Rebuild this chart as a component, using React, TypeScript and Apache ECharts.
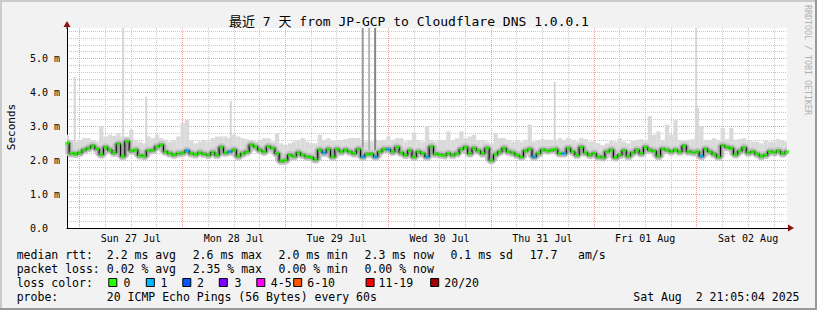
import React, { useEffect, useRef } from 'react';
import * as echarts from 'echarts';

const MONO = "'DejaVu Sans Mono', 'Noto Sans CJK SC', monospace";

const title = '最近 7 天 from JP-GCP to Cloudflare DNS 1.0.0.1';

// median RTT (ms), one value per hour since Sat Jul 26 21:05
const medianRtt = [
  2.5, 2.2, 2.18, 2.22, 2.3, 2.35, 2.42, 2.33, 2.17, 2.38,
  2.3, 2.22, 2.48, 2.12, 2.55, 2.28, 2.3, 2.14, 2.12, 2.28,
  2.3, 2.4, 2.45, 2.25, 2.2, 2.16, 2.2, 2.22, 2.28, 2.2,
  2.17, 2.22, 2.18, 2.15, 2.23, 2.15, 2.38, 2.22, 2.25, 2.3,
  2.12, 2.2, 2.25, 2.45, 2.4, 2.3, 2.25, 2.4, 2.35, 2.2,
  1.98, 2.0, 2.15, 2.12, 2.22, 2.15, 2.1, 2.08, 2.02, 2.3,
  2.22, 2.32, 2.1, 2.32, 2.25, 2.3, 2.25, 2.2, 2.32, 2.1,
  2.18, 2.18, 2.1, 2.25, 2.32, 2.32, 2.25, 2.38, 2.22, 2.15,
  2.28, 2.1, 2.25, 2.2, 2.1, 2.4, 2.18, 2.16, 2.14, 2.2,
  2.15, 2.2, 2.32, 2.38, 2.2, 2.35, 2.28, 2.2, 2.35, 2.0,
  2.17, 2.25, 2.35, 2.25, 2.22, 2.15, 2.1, 2.28, 2.32, 2.1,
  2.2, 2.3, 2.28, 2.3, 2.32, 2.2, 2.2, 2.35, 2.25, 2.15,
  2.38, 2.22, 2.15, 2.2, 2.1, 2.08, 2.25, 2.3, 2.08, 2.15,
  2.28, 2.12, 2.22, 2.3, 2.2, 2.38, 2.3, 2.27, 2.12, 2.33,
  2.3, 2.26, 2.3, 2.25, 2.42, 2.25, 2.23, 2.25, 2.12, 2.33,
  2.25, 2.18, 2.1, 2.43, 2.38, 2.35, 2.17, 2.27, 2.37, 2.22,
  2.25, 2.18, 2.12, 2.15, 2.25, 2.23, 2.27, 2.2, 2.25,
];

// upper edge of the light smoke (ms), one value per hour
const maxRtt = [
  2.75, 2.6, 2.55, 2.6, 2.65, 2.65, 2.6, 2.55, 3.0, 2.7,
  2.75, 2.72, 2.8, 2.7, 2.7, 2.9, 2.6, 2.55, 2.5, 2.7,
  2.65, 2.75, 2.65, 2.6, 2.55, 2.6, 2.7, 3.1, 3.2, 2.6,
  2.5, 2.55, 2.6, 2.55, 2.65, 2.7, 2.7, 2.7, 2.65, 2.75,
  2.7, 2.65, 2.62, 2.6, 2.55, 2.6, 2.65, 2.65, 2.55, 2.8,
  2.5, 2.45, 2.5, 2.55, 2.6, 2.66, 2.55, 2.5, 2.5, 2.75,
  2.6, 2.65, 2.57, 2.6, 2.6, 2.62, 2.65, 2.66, 2.66, 2.55,
  2.55, 2.55, 2.6, 2.57, 2.6, 2.7, 2.6, 2.65, 2.65, 2.55,
  2.6, 2.82, 2.6, 2.55, 3.0, 2.6, 2.55, 2.6, 2.6, 2.85,
  2.6, 2.65, 2.85, 2.65, 2.7, 2.75, 2.6, 2.6, 2.55, 2.5,
  2.8, 2.65, 2.65, 2.6, 2.55, 2.6, 2.55, 2.6, 3.05, 2.55,
  2.6, 2.62, 2.6, 2.6, 2.6, 2.65, 2.6, 2.66, 2.6, 2.55,
  2.66, 2.62, 2.55, 2.55, 2.5, 2.45, 2.5, 2.57, 2.55, 2.65,
  2.55, 2.5, 2.57, 2.6, 2.62, 2.6, 3.3, 2.75, 2.85, 2.6,
  3.05, 2.75, 3.2, 2.6, 2.57, 2.6, 2.62, 3.55, 3.0, 2.6,
  2.6, 2.65, 2.6, 2.95, 2.62, 2.95, 2.6, 2.62, 2.65, 2.57,
  2.55, 2.55, 2.5, 2.57, 2.55, 2.55, 2.62, 2.57, 2.55,
];

// narrow outlier spikes: hour position and top value (ms)
const spikeHour = [1.8, 13.1, 18.5, 38.2, 69.0, 70.5, 71.9, 113.8, 146.8];
const spikeTop = [4.45, 6.5, 3.87, 3.75, 6.5, 6.5, 6.5, 4.31, 6.5];
const spikeColor = ['#d6d6d6', '#d6d6d6', '#d6d6d6', '#d6d6d6', '#9c9c9c', '#b4b4b4', '#858585', '#d6d6d6', '#d6d6d6'];

// hours with 1 lost ping
const lossOneHours = [28, 38, 60, 69, 72, 75, 84, 109, 116, 148];

const sixHourTicks = [2.92, 8.92, 14.92, 20.92, 26.92, 32.92, 38.92, 44.92, 50.92, 56.92, 62.92, 68.92, 74.92, 80.92,
  86.92, 92.92, 98.92, 104.92, 110.92, 116.92, 122.92, 128.92, 134.92, 140.92, 146.92, 152.92, 158.92, 164.92];
const dayTicks = [2.92, 26.92, 50.92, 74.92, 98.92, 122.92, 146.92];
const noonTicks = [14.92, 38.92, 62.92, 86.92, 110.92, 134.92, 158.92];
const dayLabels = ['Sun 27 Jul', 'Mon 28 Jul', 'Tue 29 Jul', 'Wed 30 Jul', 'Thu 31 Jul', 'Fri 01 Aug', 'Sat 02 Aug'];

const yMinorTicks = [0.2, 0.4, 0.6, 0.8, 1.2, 1.4, 1.6, 1.8, 2.2, 2.4, 2.6, 2.8, 3.2, 3.4, 3.6, 3.8,
  4.2, 4.4, 4.6, 4.8, 5.2, 5.4, 5.6, 5.8];
const yMajorTicks = [1, 2, 3, 4, 5];
const yLabelValues = [0, 1, 2, 3, 4, 5];

const medianStats = ['2.2 ms avg', '2.6 ms max', '2.0 ms min', '2.3 ms now', '0.1 ms sd', '17.7', 'am/s'];
const lossStats = ['0.02 % avg', '2.35 % max', '0.00 % min', '0.00 % now'];
const lossLabels = ['0', '1', '2', '3', '4-5', '6-10', '11-19', '20/20'];
const lossColors = ['#26ff00', '#00b8ff', '#0059ff', '#7e00ff', '#ff00ff', '#ff5500', '#ff0000', '#a10000'];
const probeText = '20 ICMP Echo Pings (56 Bytes) every 60s';
const dateText = 'Sat Aug  2 21:05:04 2025';

// layout (pixels)
const statX = [106.8, 192.7, 278.6, 364.6, 450.5, 529.7, 578];
const boxX = [108.3, 145.8, 182.3, 218.8, 256.3, 293.2, 365.6, 430.2];
const boxLabelX = [123.4, 160.4, 196.9, 234.4, 270.8, 307.3, 378.6, 444.3];
const rowY = [255, 268.5, 282.5, 296.8];

export default function App() {
  const ref = useRef<HTMLDivElement>(null);
  useEffect(() => {
    document.body.style.margin = '0';
    const chart = echarts.init(ref.current!, null, { renderer: 'svg' });
    const hours = medianRtt.map((_, i) => i);
    const txt = (text: string, x: number, y: number, extra: any = {}) => ({
      type: 'text', x, y, silent: true,
      style: { text, fill: '#000', fontFamily: MONO, fontSize: 11.5, align: 'left', verticalAlign: 'middle', ...extra },
    });
    const graphic: any[] = [
      { type: 'rect', shape: { x: 0, y: 0, width: 817, height: 2 }, style: { fill: '#cbcbcb' } },
      { type: 'rect', shape: { x: 0, y: 0, width: 2, height: 310 }, style: { fill: '#cbcbcb' } },
      { type: 'rect', shape: { x: 815, y: 0, width: 2, height: 310 }, style: { fill: '#999999' } },
      { type: 'rect', shape: { x: 0, y: 308, width: 817, height: 2 }, style: { fill: '#999999' } },
      txt(title, 409, 21, { fontSize: 13, align: 'center' }),
      { type: 'text', x: 11, y: 127, rotation: Math.PI / 2, silent: true,
        style: { text: 'Seconds', fill: '#000', fontFamily: MONO, fontSize: 11, align: 'center', verticalAlign: 'middle' } },
      { type: 'text', x: 808, y: 5, rotation: -Math.PI / 2, silent: true,
        style: { text: 'RRDTOOL / TOBI OETIKER', fill: '#b0b0b0', fontFamily: MONO, fontSize: 8.3, align: 'left', verticalAlign: 'middle' } },
      { type: 'polygon', shape: { points: [[63.5, 27], [70.5, 27], [67, 21]] }, style: { fill: '#8b1010' } },
      { type: 'line', shape: { x1: 67, y1: 27, x2: 67, y2: 29 }, style: { stroke: '#000', lineWidth: 1 } },
      { type: 'polygon', shape: { points: [[788, 224.5], [788, 231.5], [794, 228]] }, style: { fill: '#8b1010' } },
      { type: 'line', shape: { x1: 786, y1: 228.5, x2: 788, y2: 228.5 }, style: { stroke: '#000', lineWidth: 1 } },
      txt('median rtt:', 16.7, rowY[0]),
      ...medianStats.map((s, i) => txt(s, statX[i], rowY[0])),
      txt('packet loss:', 16.7, rowY[1]),
      ...lossStats.map((s, i) => txt(s, statX[i], rowY[1])),
      txt('loss color:', 16.7, rowY[2]),
      ...lossLabels.map((s, i) => txt(s, boxLabelX[i], rowY[2])),
      ...lossColors.map((c, i) => ({
        type: 'rect', shape: { x: boxX[i] + 0.5, y: rowY[2] - 4, width: 8, height: 8 },
        style: { fill: c, stroke: '#000', lineWidth: 1 },
      })),
      txt('probe:', 16.7, rowY[3]),
      txt(probeText, statX[0], rowY[3]),
      txt(dateText, 799.5, rowY[3], { align: 'right' }),
    ];

    const option: any = {
      animation: false,
      backgroundColor: '#f2f2f2',
      grid: { left: 67, top: 28, width: 720, height: 200, show: true, backgroundColor: '#ffffff', borderWidth: 0, outerBoundsMode: 'none' },
      xAxis: [
        {
          type: 'value', min: 0, max: 168, position: 'bottom',
          axisLine: { show: true, onZero: false, lineStyle: { color: '#000', width: 1 } },
          axisTick: { show: false, customValues: sixHourTicks },
          axisLabel: { show: false },
          splitLine: { show: true, lineStyle: { color: '#c8c8c8', type: [1, 1], width: 1 } },
        },
        {
          type: 'value', min: 0, max: 168, position: 'bottom',
          axisLine: { show: false },
          axisTick: { show: false, customValues: dayTicks },
          axisLabel: {
            customValues: noonTicks, margin: 5, color: '#000', fontFamily: MONO, fontSize: 10,
            formatter: (v: number) => {
              let best = 0;
              noonTicks.forEach((t, i) => { if (Math.abs(t - v) < Math.abs(noonTicks[best] - v)) best = i; });
              return dayLabels[best];
            },
          },
          splitLine: { show: true, lineStyle: { color: '#ff9a9a', type: [1, 1], width: 1 } },
        },
      ],
      yAxis: [
        {
          type: 'value', min: 0, max: 5.9, position: 'left',
          axisLine: { show: true, onZero: false, lineStyle: { color: '#000', width: 1 } },
          axisTick: { show: false, customValues: yMinorTicks },
          axisLabel: { show: false },
          splitLine: { show: true, lineStyle: { color: '#c8c8c8', type: [1, 1], width: 1 } },
        },
        {
          type: 'value', min: 0, max: 5.9, position: 'left',
          axisLine: { show: false },
          axisTick: { show: false, customValues: yMajorTicks },
          axisLabel: {
            customValues: yLabelValues, margin: 7,
            formatter: (v: number) => `{a|${v === 0 ? '0.0' : v.toFixed(1) + ' m'}}`,
            rich: { a: { width: 30, align: 'left', fontFamily: MONO, fontSize: 10, color: '#000' } },
          },
          splitLine: { show: true, lineStyle: { color: '#ff9a9a', type: [1, 1], width: 1 } },
        },
      ],
      series: [
        {
          type: 'custom', xAxisIndex: 0, yAxisIndex: 0, clip: true, silent: true, z: 1,
          data: hours.map((h) => [h, medianRtt[h], maxRtt[h]]),
          encode: { x: 0, y: [1, 2] },
          renderItem: (params: any, api: any) => {
            const h = api.value(0);
            const p0 = api.coord([h - 0.5, api.value(1)]);
            const p1 = api.coord([h + 0.5, api.value(2)]);
            return {
              type: 'rect',
              shape: { x: p0[0], y: p1[1], width: p1[0] - p0[0], height: p0[1] - p1[1] },
              style: { fill: '#dadada' },
            };
          },
        },
        {
          type: 'custom', xAxisIndex: 0, yAxisIndex: 0, clip: true, silent: true, z: 2,
          data: spikeHour.map((p, i) => [p, spikeTop[i], i]),
          encode: { x: 0, y: 1 },
          renderItem: (params: any, api: any) => {
            const p = api.value(0);
            const i = api.value(2);
            const base = api.coord([p, medianRtt[Math.round(p)]]);
            const top = api.coord([p, api.value(1)]);
            return {
              type: 'rect',
              shape: { x: base[0] - 1, y: top[1], width: 2, height: base[1] - top[1] },
              style: { fill: spikeColor[i] },
            };
          },
        },
        {
          type: 'line', step: 'middle', silent: true, z: 3, showSymbol: false,
          data: hours.map((h) => [h, medianRtt[h]]),
          lineStyle: { color: '#c6c6c6', width: 8, cap: 'butt', join: 'bevel' },
        },
        {
          type: 'line', step: 'middle', silent: true, z: 4, showSymbol: false,
          data: hours.map((h) => [h, medianRtt[h]]),
          lineStyle: { color: '#949494', width: 4, cap: 'butt', join: 'bevel' },
        },
        {
          type: 'line', step: 'middle', silent: true, z: 5, showSymbol: false,
          data: hours.map((h) => [h, medianRtt[h]]),
          lineStyle: { color: '#000000', width: 1 },
        },
        {
          type: 'scatter', silent: true, z: 6, symbol: 'rect', symbolSize: [4, 3],
          data: hours.map((h) => ({
            value: [h, medianRtt[h]],
            itemStyle: { color: lossOneHours.includes(h) ? lossColors[1] : lossColors[0] },
          })),
        },
      ],
      graphic,
    };
    chart.setOption(option);
    return () => chart.dispose();
  }, []);
  return <div ref={ref} style={{ width: 817, height: 310 }} />;
}
